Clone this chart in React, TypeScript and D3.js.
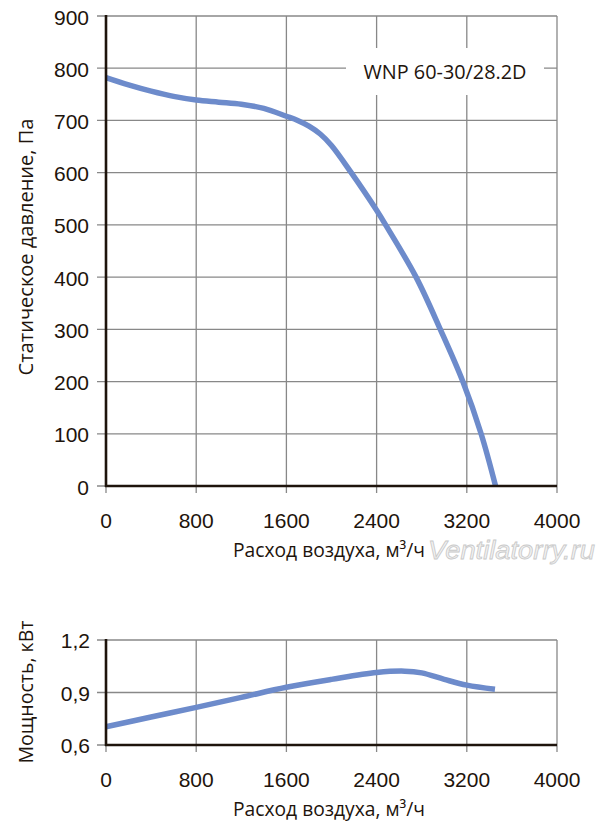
import React from "react";
import * as d3 from "d3";

const flowTicks = [0, 800, 1600, 2400, 3200, 4000];
const pressureTicks = [0, 100, 200, 300, 400, 500, 600, 700, 800, 900];
const powerTicks = [0.6, 0.9, 1.2];
const powerTickLabels = ["0,6", "0,9", "1,2"];

const pressureFlow = [0, 200, 400, 600, 800, 1000, 1200, 1400, 1600, 1700, 1800, 1900, 2000, 2175, 2400, 2480, 2750, 2965, 3165, 3327, 3455];
const pressureValues = [782, 768, 756, 746, 739, 735, 731, 723, 708, 700, 689, 674, 652, 600, 528, 500, 400, 300, 200, 100, 0];

const powerFlow = [0, 400, 800, 1200, 1600, 2000, 2400, 2650, 2800, 3000, 3200, 3450];
const powerValues = [0.704, 0.76, 0.815, 0.872, 0.93, 0.975, 1.014, 1.022, 1.012, 0.975, 0.942, 0.919];

const modelLabel = "WNP 60-30/28.2D";
const pressureTitle = "Статическое давление, Па";
const powerTitle = "Мощность, кВт";
const flowTitle = "Расход воздуха, м³/ч";
const watermark = "Ventilatorry.ru";

const GRID = "#888888";
const AXIS = "#1e140c";
const CURVE = "#6d8bcb";
const TEXT = "#1e140c";
const TICK_FONT = "'Liberation Sans', Arial, sans-serif";
const TITLE_FONT = "'Open Sans', 'Noto Sans', sans-serif";

const x = d3.scaleLinear().domain([0, 4000]).range([106, 557]);
const yTop = d3.scaleLinear().domain([0, 900]).range([486, 16]);
const yBot = d3.scaleLinear().domain([0.6, 1.2]).range([745, 640]);

function XTitle({ y }: { y: number }) {
  return (
    <text x={233} y={y} fontFamily={TITLE_FONT} fontSize={19.5} fill={TEXT} textLength={192} lengthAdjust="spacingAndGlyphs">
      {flowTitle}
    </text>
  );
}

export default function App() {
  const topLine = d3
    .line<number>()
    .x((_, i) => x(pressureFlow[i]))
    .y((d) => yTop(d))
    .curve(d3.curveCatmullRom.alpha(0.5))(pressureValues) as string;
  const botLine = d3
    .line<number>()
    .x((_, i) => x(powerFlow[i]))
    .y((d) => yBot(d))
    .curve(d3.curveCatmullRom.alpha(0.5))(powerValues) as string;

  const [x0, x1] = x.range();

  return (
    <svg
      width={600}
      height={824}
      style={{ position: "absolute", left: 0, top: 0, background: "#fff" }}
    >
      {/* ===== Top chart ===== */}
      <g>
        {pressureTicks.map((t) => (
          <line key={"hy" + t} x1={97} x2={x1} y1={yTop(t)} y2={yTop(t)} stroke={GRID} strokeWidth={1.3} />
        ))}
        {flowTicks.map((t) => (
          <line key={"vx" + t} x1={x(t)} x2={x(t)} y1={yTop(900)} y2={yTop(0) + 7} stroke={GRID} strokeWidth={1.3} />
        ))}
        <rect x={346} y={48} width={198} height={47} fill="#fff" />
        <text x={445} y={79} textAnchor="middle" fontFamily={TITLE_FONT} fontSize={20.5} fill={TEXT} textLength={163} lengthAdjust="spacingAndGlyphs">
          {modelLabel}
        </text>
        <path d={topLine} fill="none" stroke={CURVE} strokeWidth={5.5} strokeLinecap="butt" />
        <line x1={x0} x2={x0} y1={yTop(900) - 1} y2={yTop(0) + 1} stroke={AXIS} strokeWidth={2.6} />
        <line x1={x0 - 1} x2={x1} y1={yTop(0)} y2={yTop(0)} stroke={AXIS} strokeWidth={2.6} />
        {pressureTicks.map((t) => (
          <text key={"yl" + t} x={89} y={yTop(t) + 8.5} textAnchor="end" fontFamily={TICK_FONT} fontSize={21} fill={TEXT}>
            {t}
          </text>
        ))}
        {flowTicks.map((t) => (
          <text key={"xl" + t} x={x(t)} y={528} textAnchor="middle" fontFamily={TICK_FONT} fontSize={21} fill={TEXT}>
            {t}
          </text>
        ))}
        <text
          transform={`translate(33,247) rotate(-90)`}
          textAnchor="middle"
          fontFamily={TITLE_FONT}
          fontSize={20}
          fill={TEXT}
          textLength={257}
          lengthAdjust="spacingAndGlyphs"
        >
          {pressureTitle}
        </text>
        <XTitle y={557} />
        <text
          x={428}
          y={559}
          fontFamily={TICK_FONT}
          fontStyle="italic"
          fontSize={26}
          fill="#f2f2f2"
          stroke="#c9c9c9"
          strokeWidth={0.8}
          textLength={167}
          lengthAdjust="spacingAndGlyphs"
        >
          {watermark}
        </text>
      </g>

      {/* ===== Bottom chart ===== */}
      <g>
        {powerTicks.map((t) => (
          <line key={"bhy" + t} x1={97} x2={x1} y1={yBot(t)} y2={yBot(t)} stroke={GRID} strokeWidth={1.3} />
        ))}
        {flowTicks.map((t) => (
          <line key={"bvx" + t} x1={x(t)} x2={x(t)} y1={yBot(1.2)} y2={yBot(0.6) + 7} stroke={GRID} strokeWidth={1.3} />
        ))}
        <path d={botLine} fill="none" stroke={CURVE} strokeWidth={5.5} strokeLinecap="butt" />
        <line x1={x0} x2={x0} y1={yBot(1.2) - 1} y2={yBot(0.6) + 1} stroke={AXIS} strokeWidth={2.6} />
        <line x1={x0 - 1} x2={x1} y1={yBot(0.6)} y2={yBot(0.6)} stroke={AXIS} strokeWidth={2.6} />
        {powerTicks.map((t, i) => (
          <text key={"byl" + t} x={90} y={yBot(t) + 8} textAnchor="end" fontFamily={TICK_FONT} fontSize={21} fill={TEXT}>
            {powerTickLabels[i]}
          </text>
        ))}
        {flowTicks.map((t) => (
          <text key={"bxl" + t} x={x(t)} y={786.5} textAnchor="middle" fontFamily={TICK_FONT} fontSize={21} fill={TEXT}>
            {t}
          </text>
        ))}
        <text
          transform={`translate(33,692) rotate(-90)`}
          textAnchor="middle"
          fontFamily={TITLE_FONT}
          fontSize={20}
          fill={TEXT}
          textLength={143}
          lengthAdjust="spacingAndGlyphs"
        >
          {powerTitle}
        </text>
        <XTitle y={816} />
      </g>
    </svg>
  );
}
